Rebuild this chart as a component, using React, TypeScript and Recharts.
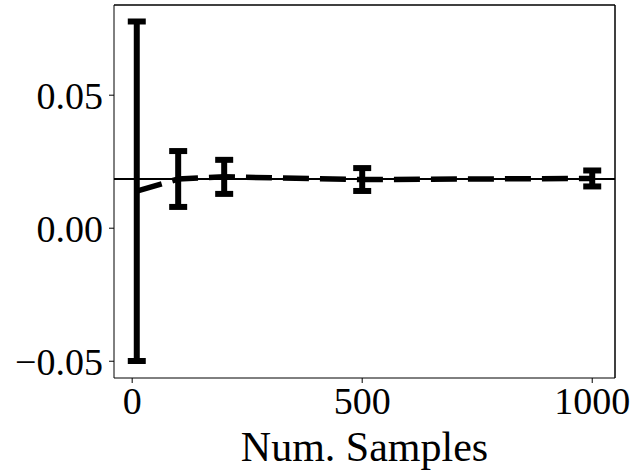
import {
  ComposedChart,
  Line,
  XAxis,
  YAxis,
  ErrorBar,
  ReferenceLine,
} from "recharts";

// sample counts and estimated means / half-widths of the error bars
const samples = [10, 100, 200, 500, 1000];
const means = [0.0139, 0.0185, 0.0193, 0.0183, 0.0187];
const errs = [0.0638, 0.0105, 0.0064, 0.0043, 0.003];
const trueValue = 0.0185;

const xDomain = [-39.5, 1049.5];
const yDomain = [-0.0563, 0.0839];
const xTicks = [0, 500, 1000];
const yTicks = [-0.05, 0, 0.05];

const FONT = "'Liberation Serif', 'DejaVu Serif', serif";

const data = samples.map((n, i) => ({ n, mean: means[i], err: errs[i] }));

const fmtY = (v: number) =>
  v < 0 ? "\u2212" + Math.abs(v).toFixed(2) : v.toFixed(2);

export default function App() {
  return (
    <div style={{ position: "absolute", left: 0, top: 0, background: "#fff" }}>
      <ComposedChart
        width={632}
        height={474}
        data={data}
        margin={{ top: 5, right: 17, left: 0, bottom: 0 }}
      >
        <XAxis
          dataKey="n"
          type="number"
          domain={xDomain}
          ticks={xTicks}
          allowDataOverflow
          height={96}
          stroke="#000"
          tickSize={5}
          tickMargin={4}
          tick={{ fontSize: 38, fontFamily: FONT, fill: "#000" }}
          label={{
            value: "Num. Samples",
            position: "insideBottom",
            offset: 13,
            style: { fontSize: 42, fontFamily: FONT, fill: "#000" },
          }}
        />
        <YAxis
          type="number"
          domain={yDomain}
          ticks={yTicks}
          allowDataOverflow
          width={114}
          stroke="#000"
          tickSize={5}
          tickMargin={6}
          tickFormatter={fmtY}
          tick={{ fontSize: 38, fontFamily: FONT, fill: "#000" }}
        />
        {/* top and right edges of the axes box */}
        <ReferenceLine y={yDomain[1]} stroke="#000" strokeWidth={1.5} />
        <ReferenceLine x={xDomain[1]} stroke="#000" strokeWidth={1.5} />
        <ReferenceLine y={trueValue} stroke="#000" strokeWidth={2} />
        <Line
          dataKey="mean"
          type="linear"
          stroke="#000"
          strokeWidth={5.5}
          strokeDasharray="26 11"
          dot={false}
          activeDot={false}
          isAnimationActive={false}
        >
          <ErrorBar
            dataKey="err"
            direction="y"
            width={9}
            strokeWidth={6}
            stroke="#000"
            isAnimationActive={false}
          />
        </Line>
      </ComposedChart>
    </div>
  );
}
